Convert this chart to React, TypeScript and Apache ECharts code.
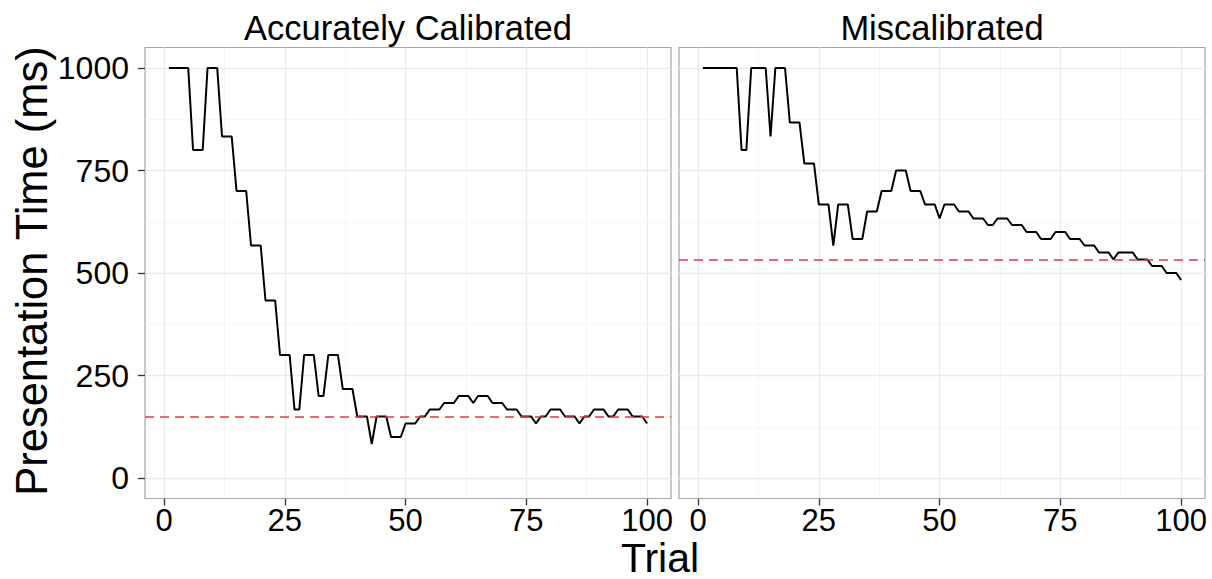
import React, { useEffect, useRef } from "react";
import * as echarts from "echarts";

const trials: number[] = [
  1, 2, 3, 4, 5, 6, 7, 8, 9, 10, 11, 12, 13, 14, 15, 16, 17, 18, 19, 20,
  21, 22, 23, 24, 25, 26, 27, 28, 29, 30, 31, 32, 33, 34, 35, 36, 37, 38, 39, 40,
  41, 42, 43, 44, 45, 46, 47, 48, 49, 50, 51, 52, 53, 54, 55, 56, 57, 58, 59, 60,
  61, 62, 63, 64, 65, 66, 67, 68, 69, 70, 71, 72, 73, 74, 75, 76, 77, 78, 79, 80,
  81, 82, 83, 84, 85, 86, 87, 88, 89, 90, 91, 92, 93, 94, 95, 96, 97, 98, 99, 100,
];

const accurate: number[] = [
  1000, 1000, 1000, 1000, 1000, 800, 800, 800, 1000, 1000,
  1000, 833, 833, 833, 700, 700, 700, 567, 567, 567,
  433, 433, 433, 300, 300, 300, 167, 167, 300, 300,
  300, 200, 200, 300, 300, 300, 217, 217, 217, 150,
  150, 150, 83, 150, 150, 150, 100, 100, 100, 133,
  133, 133, 150, 150, 167, 167, 167, 183, 183, 183,
  200, 200, 200, 183, 200, 200, 200, 183, 183, 183,
  167, 167, 167, 150, 150, 150, 133, 150, 150, 167,
  167, 167, 150, 150, 150, 133, 150, 150, 167, 167,
  167, 150, 150, 167, 167, 167, 150, 150, 150, 133,
];

const miscal: number[] = [
  1000, 1000, 1000, 1000, 1000, 1000, 1000, 1000, 800, 800,
  1000, 1000, 1000, 1000, 833, 1000, 1000, 1000, 867, 867,
  867, 767, 767, 767, 667, 667, 667, 567, 667, 667,
  667, 583, 583, 583, 650, 650, 650, 700, 700, 700,
  750, 750, 750, 700, 700, 700, 667, 667, 667, 633,
  667, 667, 667, 650, 650, 650, 633, 633, 633, 617,
  617, 633, 633, 633, 617, 617, 617, 600, 600, 600,
  583, 583, 583, 600, 600, 600, 583, 583, 583, 567,
  567, 567, 550, 550, 550, 533, 550, 550, 550, 550,
  533, 533, 533, 517, 517, 517, 500, 500, 500, 483,
];

const panelTitles: string[] = ["Accurately Calibrated", "Miscalibrated"];
const thresholds: number[] = [150, 533];
const xTicks: number[] = [0, 25, 50, 75, 100];
const xMinor: number[] = [12.5, 37.5, 62.5, 87.5];
const yTicks: number[] = [0, 250, 500, 750, 1000];
const yMinor: number[] = [125, 375, 625, 875];

const FONT = '"Liberation Sans", Arial, Helvetica, sans-serif';

export default function App() {
  const ref = useRef<HTMLDivElement>(null);

  useEffect(() => {
    if (!ref.current) return;
    const chart = echarts.init(ref.current, null, { renderer: "svg" });

    const panels = [accurate, miscal];
    const gridLefts = [145, 679];
    const gridTop = 47.5;
    const gridW = 526;
    const gridH = 451;

    const gridMarks = [
      ...xMinor.map((v) => ({ xAxis: v, lineStyle: { color: "#F2F2F2", width: 0.7 } })),
      ...yMinor.map((v) => ({ yAxis: v, lineStyle: { color: "#F2F2F2", width: 0.7 } })),
      ...xTicks.map((v) => ({ xAxis: v, lineStyle: { color: "#EBEBEB", width: 1.3 } })),
      ...yTicks.map((v) => ({ yAxis: v, lineStyle: { color: "#EBEBEB", width: 1.3 } })),
    ];

    const series: any[] = [];
    panels.forEach((vals, i) => {
      const data = trials.map((t, k) => [t, vals[k]]);
      series.push({
        type: "line",
        xAxisIndex: i,
        yAxisIndex: i,
        data,
        showSymbol: false,
        silent: true,
        z: 1,
        lineStyle: { opacity: 0, width: 0 },
        markLine: {
          silent: true,
          z: 1,
          symbol: ["none", "none"],
          label: { show: false },
          emphasis: { disabled: true },
          lineStyle: { type: "solid" },
          data: gridMarks,
        },
      });
      series.push({
        type: "line",
        xAxisIndex: i,
        yAxisIndex: i,
        data,
        showSymbol: false,
        silent: true,
        z: 3,
        lineStyle: { color: "#000", width: 2 },
        markLine: {
          silent: true,
          z: 4,
          symbol: ["none", "none"],
          label: { show: false },
          emphasis: { disabled: true },
          lineStyle: { type: [9, 6], color: "#EE3347", width: 1.6 },
          data: [{ yAxis: thresholds[i] }],
        },
      });
    });

    const option: any = {
      animation: false,
      backgroundColor: "#fff",
      grid: gridLefts.map((l) => ({
        left: l,
        top: gridTop,
        width: gridW,
        height: gridH,
        show: true,
        backgroundColor: "#fff",
        borderColor: "#A6A6A6",
        borderWidth: 1.2,
        containLabel: false,
      })),
      xAxis: gridLefts.map((_, i) => ({
        type: "value",
        gridIndex: i,
        min: -3.95,
        max: 104.95,
        axisLine: { show: false, onZero: false },
        axisTick: {
          show: true,
          length: 7,
          customValues: xTicks,
          lineStyle: { color: "#333", width: 1.3 },
        },
        axisLabel: {
          customValues: xTicks,
          formatter: (v: number) => String(v),
          fontSize: 31,
          fontFamily: FONT,
          color: "#000",
          margin: 6,
        },
        splitLine: { show: false },
      })),
      yAxis: gridLefts.map((_, i) => ({
        type: "value",
        gridIndex: i,
        min: -50,
        max: 1050,
        axisLine: { show: false, onZero: false },
        axisTick: {
          show: i === 0,
          length: 7,
          customValues: yTicks,
          lineStyle: { color: "#333", width: 1.3 },
        },
        axisLabel: {
          show: i === 0,
          customValues: yTicks,
          formatter: (v: number) => String(v),
          fontSize: 32,
          fontFamily: FONT,
          color: "#000",
          margin: 16,
        },
        splitLine: { show: false },
      })),
      series,
      graphic: [
        ...panelTitles.map((t, i) => ({
          type: "text",
          x: gridLefts[i] + gridW / 2,
          y: 28,
          style: {
            text: t,
            font: `34.5px ${FONT}`,
            fill: "#000",
            align: "center",
            verticalAlign: "middle",
          },
        })),
        {
          type: "text",
          x: 32,
          y: 271,
          rotation: Math.PI / 2,
          style: {
            text: "Presentation Time (ms)",
            font: `43.5px ${FONT}`,
            fill: "#000",
            align: "center",
            verticalAlign: "middle",
          },
        },
        {
          type: "text",
          x: 660,
          y: 557.5,
          style: {
            text: "Trial",
            font: `41px ${FONT}`,
            fill: "#000",
            align: "center",
            verticalAlign: "middle",
          },
        },
      ],
    };

    chart.setOption(option);
    return () => chart.dispose();
  }, []);

  return (
    <div
      ref={ref}
      style={{ position: "fixed", left: 0, top: 0, width: 1212, height: 579, background: "#fff" }}
    />
  );
}
